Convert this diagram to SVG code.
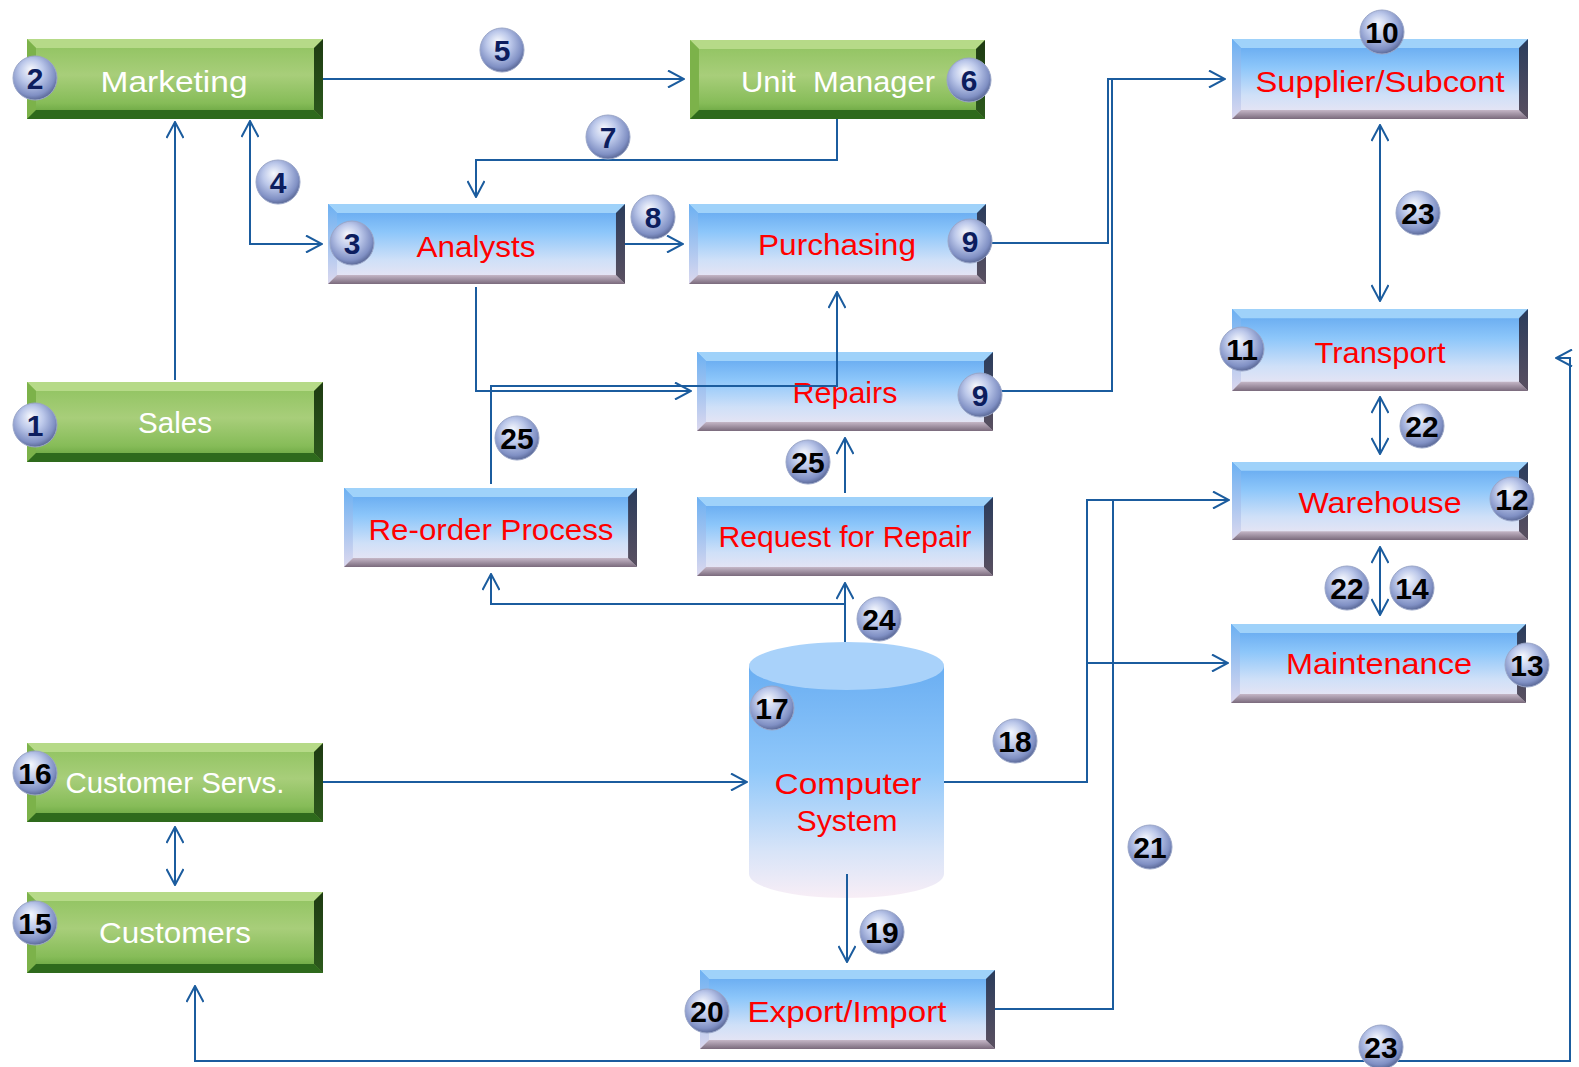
<svg xmlns="http://www.w3.org/2000/svg" xmlns:xlink="http://www.w3.org/1999/xlink" width="1579" height="1067" viewBox="0 0 1579 1067">
  <defs>
    <!-- blue bevelled button -->
    <linearGradient id="blueFace" x1="0" y1="0" x2="0" y2="1">
      <stop offset="0" stop-color="#5ea4ee"/>
      <stop offset="0.35" stop-color="#8cc6fa"/>
      <stop offset="0.7" stop-color="#cfe0f8"/>
      <stop offset="1" stop-color="#efe6f2"/>
    </linearGradient>
    <linearGradient id="blueLeft" x1="0" y1="0" x2="0" y2="1">
      <stop offset="0" stop-color="#6cb0f2"/>
      <stop offset="1" stop-color="#dcd8ee"/>
    </linearGradient>
    <linearGradient id="blueRight" x1="0" y1="0" x2="0" y2="1">
      <stop offset="0" stop-color="#2a3c5c"/>
      <stop offset="1" stop-color="#5a5060"/>
    </linearGradient>
    <linearGradient id="blueBottom" x1="0" y1="0" x2="0" y2="1">
      <stop offset="0" stop-color="#c4b6c6"/>
      <stop offset="1" stop-color="#7a6a7c"/>
    </linearGradient>
    <!-- green bevelled button -->
    <linearGradient id="greenFace" x1="0" y1="0" x2="0" y2="1">
      <stop offset="0" stop-color="#8ec25e"/>
      <stop offset="0.45" stop-color="#a8ce7a"/>
      <stop offset="0.8" stop-color="#86bc58"/>
      <stop offset="1" stop-color="#5c9a36"/>
    </linearGradient>
    <linearGradient id="greenRight" x1="0" y1="0" x2="0" y2="1">
      <stop offset="0" stop-color="#1e3a12"/>
      <stop offset="1" stop-color="#2c5a1c"/>
    </linearGradient>
    <linearGradient id="cylBody" x1="0" y1="0" x2="0" y2="1">
      <stop offset="0" stop-color="#6aaef2"/>
      <stop offset="0.45" stop-color="#90c8fa"/>
      <stop offset="0.8" stop-color="#d8e4f8"/>
      <stop offset="1" stop-color="#f8eef6"/>
    </linearGradient>
    <radialGradient id="ball" cx="0.45" cy="0.4" r="0.6" fx="0.4" fy="0.3">
      <stop offset="0" stop-color="#f6f8fd"/>
      <stop offset="0.45" stop-color="#bcc8ea"/>
      <stop offset="0.85" stop-color="#8090c4"/>
      <stop offset="1" stop-color="#5c6a98"/>
    </radialGradient>

    <symbol id="btnBlue" viewBox="0 0 296 80" width="296" height="80" preserveAspectRatio="none" overflow="visible">
      <rect x="0" y="0" width="296" height="80" fill="url(#blueFace)"/>
      <polygon points="0,0 296,0 287,9 9,9" fill="#9fd2fa"/>
      <polygon points="0,0 9,9 9,71 0,80" fill="url(#blueLeft)"/>
      <polygon points="0,80 9,71 287,71 296,80" fill="url(#blueBottom)"/>
      <polygon points="296,0 296,80 287,71 287,9" fill="url(#blueRight)"/>
    </symbol>
    <symbol id="btnGreen" viewBox="0 0 296 80" width="296" height="80" preserveAspectRatio="none" overflow="visible">
      <rect x="0" y="0" width="296" height="80" fill="url(#greenFace)"/>
      <polygon points="0,0 296,0 287,9 9,9" fill="#b6da88"/>
      <polygon points="0,0 9,9 9,71 0,80" fill="#7cb24a"/>
      <polygon points="0,80 9,71 287,71 296,80" fill="#2e6a1c"/>
      <polygon points="296,0 296,80 287,71 287,9" fill="url(#greenRight)"/>
    </symbol>

    <marker id="arrow" viewBox="0 0 18 18" refX="17" refY="9" markerWidth="18" markerHeight="18" markerUnits="userSpaceOnUse" orient="auto-start-reverse">
      <path d="M1,0.5 L17,9 L1,17.5" fill="none" stroke="#1b5c9e" stroke-width="2"/>
    </marker>

    <style>
      .lbl { font-family: "Liberation Sans", Arial, sans-serif; font-size: 30px; text-anchor: middle; }
      .w { fill: #ffffff; }
      .r { fill: #ff0000; }
      .conn { fill: none; stroke: #1b5c9e; stroke-width: 2; }
      .arr { marker-end: url(#arrow); }
      .both { marker-start: url(#arrow); marker-end: url(#arrow); }
      .ball { fill: url(#ball); stroke: #9aa6c8; stroke-width: 1; }
      .num { font-family: "Liberation Sans", Arial, sans-serif; font-size: 30px; font-weight: bold; text-anchor: middle; }
      .navy { fill: #0c1d5e; }
      .blk { fill: #000000; }
    </style>
  </defs>

  <rect width="1579" height="1067" fill="#ffffff"/>

  <!-- nodes -->
  <g id="marketing">
    <use href="#btnGreen" x="27" y="39" width="296" height="80"/>
    <text class="lbl w" x="174" y="92" textLength="147" lengthAdjust="spacingAndGlyphs">Marketing</text>
  </g>
  <g id="sales">
    <use href="#btnGreen" x="27" y="382" width="296" height="80"/>
    <text class="lbl w" x="175" y="433" textLength="74" lengthAdjust="spacingAndGlyphs">Sales</text>
  </g>
  <g id="unit-manager">
    <use href="#btnGreen" x="690" y="40" width="295" height="79"/>
    <text class="lbl w" x="838" y="92" textLength="194" lengthAdjust="spacingAndGlyphs" xml:space="preserve">Unit  Manager</text>
  </g>
  <g id="customer-servs">
    <use href="#btnGreen" x="27" y="743" width="296" height="79"/>
    <text class="lbl w" x="175" y="793" textLength="219" lengthAdjust="spacingAndGlyphs">Customer Servs.</text>
  </g>
  <g id="customers">
    <use href="#btnGreen" x="27" y="892" width="296" height="81"/>
    <text class="lbl w" x="175" y="943" textLength="152" lengthAdjust="spacingAndGlyphs">Customers</text>
  </g>

  <g id="analysts">
    <use href="#btnBlue" x="328" y="204" width="297" height="80"/>
    <text class="lbl r" x="476" y="257" textLength="119" lengthAdjust="spacingAndGlyphs">Analysts</text>
  </g>
  <g id="purchasing">
    <use href="#btnBlue" x="689" y="204" width="297" height="80"/>
    <text class="lbl r" x="837" y="255" textLength="158" lengthAdjust="spacingAndGlyphs">Purchasing</text>
  </g>
  <g id="repairs">
    <use href="#btnBlue" x="697" y="352" width="296" height="79"/>
    <text class="lbl r" x="845" y="403" textLength="105" lengthAdjust="spacingAndGlyphs">Repairs</text>
  </g>
  <g id="request-for-repair">
    <use href="#btnBlue" x="697" y="497" width="296" height="79"/>
    <text class="lbl r" x="845" y="547" textLength="253" lengthAdjust="spacingAndGlyphs">Request for Repair</text>
  </g>
  <g id="reorder-process">
    <use href="#btnBlue" x="344" y="488" width="293" height="79"/>
    <text class="lbl r" x="491" y="540" textLength="245" lengthAdjust="spacingAndGlyphs">Re-order Process</text>
  </g>
  <g id="supplier">
    <use href="#btnBlue" x="1232" y="39" width="296" height="80"/>
    <text class="lbl r" x="1380" y="92" textLength="249" lengthAdjust="spacingAndGlyphs">Supplier/Subcont</text>
  </g>
  <g id="transport">
    <use href="#btnBlue" x="1232" y="309" width="296" height="82"/>
    <text class="lbl r" x="1380" y="363" textLength="131" lengthAdjust="spacingAndGlyphs">Transport</text>
  </g>
  <g id="warehouse">
    <use href="#btnBlue" x="1232" y="462" width="296" height="78"/>
    <text class="lbl r" x="1380" y="513" textLength="163" lengthAdjust="spacingAndGlyphs">Warehouse</text>
  </g>
  <g id="maintenance">
    <use href="#btnBlue" x="1231" y="624" width="295" height="79"/>
    <text class="lbl r" x="1379" y="674" textLength="186" lengthAdjust="spacingAndGlyphs">Maintenance</text>
  </g>
  <g id="export-import">
    <use href="#btnBlue" x="700" y="970" width="295" height="79"/>
    <text class="lbl r" x="847" y="1022" textLength="199" lengthAdjust="spacingAndGlyphs">Export/Import</text>
  </g>

  <g id="computer-system">
    <path d="M749,666 L749,874 A97.5,24 0 0 0 944,874 L944,666 Z" fill="url(#cylBody)"/>
    <ellipse cx="846.5" cy="666" rx="97.5" ry="24" fill="#a9d2fa"/>
    <text class="lbl r" x="848" y="794" textLength="147" lengthAdjust="spacingAndGlyphs">Computer</text>
    <text class="lbl r" x="847" y="831" textLength="101" lengthAdjust="spacingAndGlyphs">System</text>
  </g>

  <!-- connectors -->
  <g id="connectors">
    <path class="conn arr" d="M323,79 H684"/>
    <path class="conn arr" d="M175,380 V122"/>
    <path class="conn both" d="M250,121 V244 H322"/>
    <path class="conn arr" d="M837,119 V160 H476 V197"/>
    <path class="conn arr" d="M625,244 H683"/>
    <path class="conn arr" d="M986,243 H1108 V79 H1225"/>
    <path class="conn" d="M993,391 H1112 V79 H1200"/>
    <path class="conn both" d="M1380,125 V301"/>
    <path class="conn both" d="M1380,397 V454"/>
    <path class="conn both" d="M1380,547 V615"/>
    <path class="conn arr" d="M476,287 V391 H691"/>
    <path class="conn arr" d="M491,484 V386 H837 V292"/>
    <path class="conn arr" d="M845,493 V438"/>
    <path class="conn arr" d="M845,642 V583"/>
    <path class="conn arr" d="M845,604 H491 V574"/>
    <path class="conn arr" d="M323,782 H747"/>
    <path class="conn arr" d="M944,782 H1087 V500 H1229"/>
    <path class="conn arr" d="M1087,663 H1228"/>
    <path class="conn" d="M995,1009 H1113 V500"/>
    <path class="conn arr" d="M847,874 V962"/>
    <path class="conn both" d="M175,827 V885"/>
    <path class="conn both" d="M1556,358 H1570 V1061 H195 V986"/>
  </g>

  <!-- numbered markers -->
  <g id="badges">
    <g><circle class="ball" cx="35" cy="78" r="22"/><text class="num navy" x="35" y="89">2</text></g>
    <g><circle class="ball" cx="502" cy="50" r="22"/><text class="num navy" x="502" y="61">5</text></g>
    <g><circle class="ball" cx="969" cy="80" r="22"/><text class="num navy" x="969" y="91">6</text></g>
    <g><circle class="ball" cx="608" cy="137" r="22"/><text class="num navy" x="608" y="148">7</text></g>
    <g><circle class="ball" cx="278" cy="182" r="22"/><text class="num navy" x="278" y="193">4</text></g>
    <g><circle class="ball" cx="352" cy="243" r="22"/><text class="num navy" x="352" y="254">3</text></g>
    <g><circle class="ball" cx="653" cy="217" r="22"/><text class="num navy" x="653" y="228">8</text></g>
    <g><circle class="ball" cx="970" cy="241" r="22"/><text class="num navy" x="970" y="252">9</text></g>
    <g><circle class="ball" cx="35" cy="425" r="22"/><text class="num navy" x="35" y="436">1</text></g>
    <g><circle class="ball" cx="980" cy="395" r="22"/><text class="num navy" x="980" y="406">9</text></g>
    <g><circle class="ball" cx="1382" cy="32" r="22"/><text class="num blk" x="1382" y="43">10</text></g>
    <g><circle class="ball" cx="1418" cy="213" r="22"/><text class="num blk" x="1418" y="224">23</text></g>
    <g><circle class="ball" cx="1242" cy="349" r="22"/><text class="num blk" x="1242" y="360">11</text></g>
    <g><circle class="ball" cx="1422" cy="426" r="22"/><text class="num blk" x="1422" y="437">22</text></g>
    <g><circle class="ball" cx="1512" cy="499" r="22"/><text class="num blk" x="1512" y="510">12</text></g>
    <g><circle class="ball" cx="1347" cy="588" r="22"/><text class="num blk" x="1347" y="599">22</text></g>
    <g><circle class="ball" cx="1412" cy="588" r="22"/><text class="num blk" x="1412" y="599">14</text></g>
    <g><circle class="ball" cx="1527" cy="665" r="22"/><text class="num blk" x="1527" y="676">13</text></g>
    <g><circle class="ball" cx="517" cy="438" r="22"/><text class="num blk" x="517" y="449">25</text></g>
    <g><circle class="ball" cx="808" cy="462" r="22"/><text class="num blk" x="808" y="473">25</text></g>
    <g><circle class="ball" cx="879" cy="619" r="22"/><text class="num blk" x="879" y="630">24</text></g>
    <g><circle class="ball" cx="772" cy="708" r="22"/><text class="num blk" x="772" y="719">17</text></g>
    <g><circle class="ball" cx="1015" cy="741" r="22"/><text class="num blk" x="1015" y="752">18</text></g>
    <g><circle class="ball" cx="35" cy="773" r="22"/><text class="num blk" x="35" y="784">16</text></g>
    <g><circle class="ball" cx="35" cy="923" r="22"/><text class="num blk" x="35" y="934">15</text></g>
    <g><circle class="ball" cx="1150" cy="847" r="22"/><text class="num blk" x="1150" y="858">21</text></g>
    <g><circle class="ball" cx="882" cy="932" r="22"/><text class="num blk" x="882" y="943">19</text></g>
    <g><circle class="ball" cx="707" cy="1011" r="22"/><text class="num blk" x="707" y="1022">20</text></g>
    <g><circle class="ball" cx="1381" cy="1047" r="22"/><text class="num blk" x="1381" y="1058">23</text></g>
  </g>
</svg>
